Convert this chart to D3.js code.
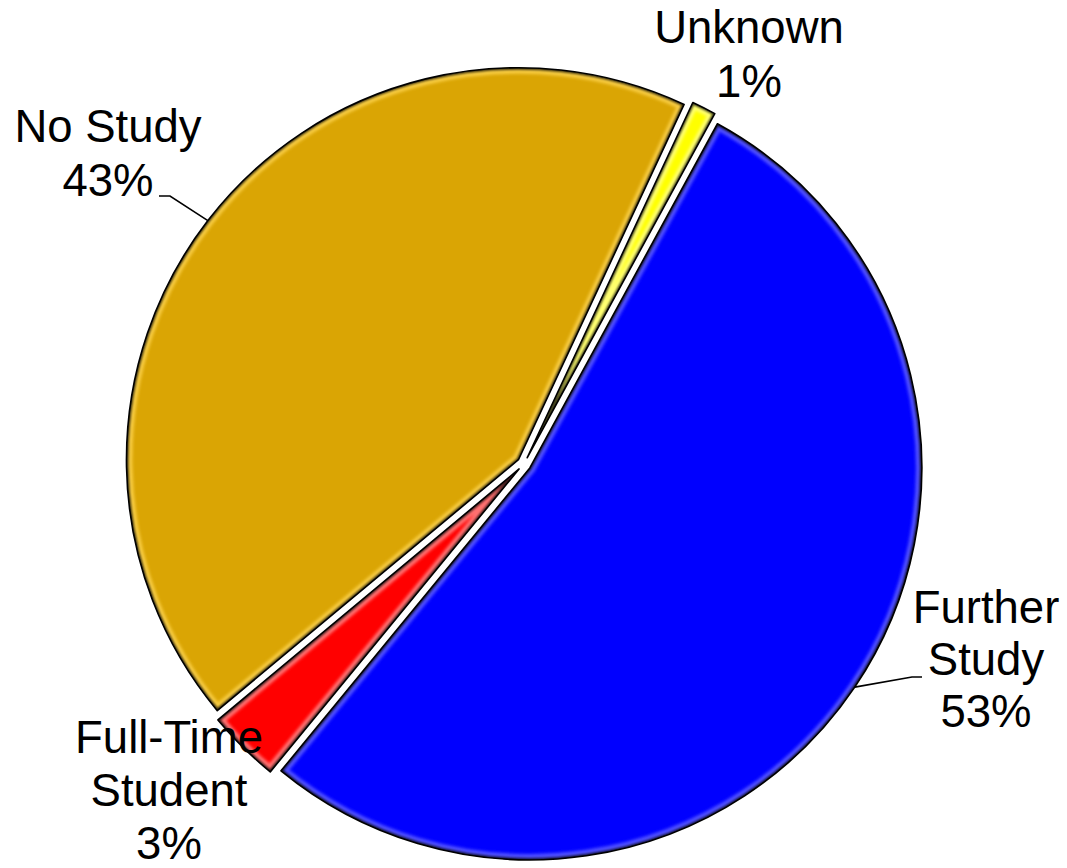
<!DOCTYPE html>
<html>
<head>
<meta charset="utf-8">
<script src="https://cdn.jsdelivr.net/npm/d3@7"></script>
<style>
  html, body { margin: 0; padding: 0; background: #fff; }
  svg { display: block; }
  text { font-family: "Liberation Sans", Arial, Helvetica, sans-serif; }
</style>
</head>
<body>
<svg id="chart" width="1067" height="868"></svg>
<script>
// ---- data ----
const categories = ["Unknown", "Further Study", "Full-Time Student", "No Study"];
const values = [1, 53, 3, 43];
const labelLines = [["Unknown", "1%"], ["Further", "Study", "53%"], ["Full-Time", "Student", "3%"], ["No Study", "43%"]];
const sliceColors = ["#FFFF00", "#0000FF", "#FF0000", "#DAA504"];
const highlightColors = ["#FFFF70", "#5050FF", "#FF7070", "#F7CB40"];

// ---- layout ----
const W = 1067, H = 868;
const cx = 524, cy = 464, R = 392, explode = 7;
const startDeg = 25;
const labelPos = [
  { x: 749, y: 43, dy: 54, leader: false },
  { x: 986, y: 623, dy: 52, leader: true, anchor: [922, 677], elbow: [912, 677] },
  { x: 169, y: 753, dy: 53, leader: false },
  { x: 108, y: 142, dy: 54, leader: true, anchor: [159, 196], elbow: [170, 196] }
];

const svg = d3.select("#chart");
const defs = svg.append("defs");
const blur1 = defs.append("filter").attr("id", "blurA").attr("x", "-10%").attr("y", "-10%").attr("width", "120%").attr("height", "120%");
blur1.append("feGaussianBlur").attr("stdDeviation", 1.8);
const blur2 = defs.append("filter").attr("id", "blurB").attr("x", "-10%").attr("y", "-10%").attr("width", "120%").attr("height", "120%");
blur2.append("feGaussianBlur").attr("stdDeviation", 1.2);

const data = categories.map((c, i) => ({ name: c, value: values[i], i }));
const a0 = startDeg * Math.PI / 180;
const pie = d3.pie().sort(null).value(d => d.value).startAngle(a0).endAngle(a0 + 2 * Math.PI);
const arcs = pie(data);
const arc = d3.arc().innerRadius(0).outerRadius(R);

const root = svg.append("g").attr("transform", `translate(${cx},${cy})`);

arcs.forEach((a, k) => {
  const mid = (a.startAngle + a.endAngle) / 2;
  const ox = Math.sin(mid) * explode, oy = -Math.cos(mid) * explode;
  const g = root.append("g").attr("transform", `translate(${ox},${oy})`);
  const d = arc(a);
  const cid = "clip" + k;
  g.append("clipPath").attr("id", cid).append("path").attr("d", d);
  g.append("path").attr("d", d).attr("fill", sliceColors[a.data.i]);
  const inner = g.append("g").attr("clip-path", `url(#${cid})`);
  inner.append("path").attr("d", d).attr("fill", "none")
    .attr("stroke", highlightColors[a.data.i]).attr("stroke-width", 12)
    .attr("stroke-linejoin", "round").attr("filter", "url(#blurA)");
  inner.append("path").attr("d", d).attr("fill", "none")
    .attr("stroke", "#000").attr("stroke-opacity", 0.75).attr("stroke-width", 4)
    .attr("stroke-linejoin", "round").attr("filter", "url(#blurB)");
  g.append("path").attr("d", d).attr("fill", "none")
    .attr("stroke", "#000").attr("stroke-width", 1.6).attr("stroke-linejoin", "round");
});

// leader lines
arcs.forEach((a) => {
  const lp = labelPos[a.data.i];
  if (!lp.leader) return;
  const mid = (a.startAngle + a.endAngle) / 2;
  const r = R + explode;
  const px = cx + Math.sin(mid) * r, py = cy - Math.cos(mid) * r;
  svg.append("polyline")
    .attr("points", [lp.anchor, lp.elbow, [px, py]].map(p => p.join(",")).join(" "))
    .attr("fill", "none").attr("stroke", "#000").attr("stroke-width", 1.6);
});

// labels
data.forEach((d) => {
  const lp = labelPos[d.i];
  const t = svg.append("text").attr("text-anchor", "middle")
    .attr("font-size", 45.5).attr("fill", "#000");
  labelLines[d.i].forEach((line, j) => {
    t.append("tspan").attr("x", lp.x).attr("y", lp.y + j * lp.dy).text(line);
  });
});
</script>
</body>
</html>
